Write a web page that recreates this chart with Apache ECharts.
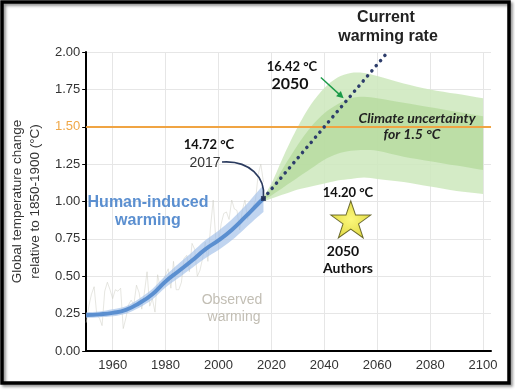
<!DOCTYPE html>
<html><head><meta charset="utf-8">
<script src="https://cdn.jsdelivr.net/npm/echarts@6/dist/echarts.min.js"></script>
<style>html,body{margin:0;padding:0;background:#fff}#c{width:515px;height:390px}</style>
</head><body><div id="c"></div>
<script>
// ---- data ----
const histYears     = [1950,1955,1960,1965,1970,1975,1980,1985,1990,1995,2000,2005,2010,2015,2017];
const humanInduced  = [0.24,0.245,0.255,0.275,0.32,0.38,0.465,0.535,0.605,0.68,0.74,0.81,0.895,0.985,1.02];
const humanLow      = [0.22,0.225,0.232,0.25,0.29,0.345,0.425,0.49,0.555,0.62,0.675,0.74,0.82,0.90,0.93];
const humanHigh     = [0.26,0.265,0.28,0.30,0.35,0.415,0.505,0.585,0.66,0.74,0.805,0.88,0.97,1.07,1.11];

const obsYears = [];
for (let y = 1950; y <= 2017; y++) obsYears.push(y);
const observed = [0.19,0.30,0.38,0.43,0.24,0.22,0.17,0.40,0.46,0.41,0.35,0.41,0.40,0.42,0.15,0.22,0.31,0.34,0.31,0.44,
  0.39,0.28,0.39,0.53,0.30,0.35,0.26,0.51,0.42,0.47,0.51,0.55,0.42,0.60,0.41,0.41,0.46,0.62,0.64,0.53,
  0.72,0.68,0.50,0.54,0.62,0.73,0.60,0.83,1.01,0.74,0.72,0.85,0.92,0.93,0.88,1.01,0.95,0.94,0.81,0.94,
  1.01,0.88,0.92,0.96,1.01,1.18,1.25,1.13];

const projYears  = [2017,2020,2025,2030,2035,2040,2045,2050,2055,2060,2070,2080,2090,2100];
const outerLow   = [1.00,1.02,1.05,1.08,1.10,1.12,1.14,1.15,1.16,1.15,1.13,1.10,1.07,1.05];
const outerHigh  = [1.03,1.12,1.32,1.50,1.65,1.76,1.83,1.86,1.86,1.84,1.79,1.75,1.72,1.69];
const innerLow   = [1.01,1.04,1.10,1.16,1.22,1.28,1.32,1.34,1.345,1.34,1.30,1.27,1.24,1.21];
const innerHigh  = [1.02,1.09,1.24,1.38,1.50,1.59,1.65,1.69,1.70,1.69,1.66,1.63,1.60,1.57];

const rateYears  = [2017,2064];
const rateValues = [1.02,2.00];

const authorsPoint = [2050, 0.88];
const limitLevel = 1.5;

const xTicks = [1960,1980,2000,2020,2040,2060,2080,2100];

// ---- helpers ----
const pairs = (xs, ys) => xs.map((x,i)=>[x, ys[i]]);

function bandSeries(xs, lo, hi, color, z) {
  return {
    type:'custom', z, silent:true, clip:true,
    data: xs.map((x,i)=>[x, lo[i], hi[i]]),
    encode:{x:0, y:[1,2]},
    renderItem:(params, api) => {
      if (params.dataIndex !== 0) return null;
      const top = xs.map((x,i)=>api.coord([x, hi[i]]));
      const bot = xs.map((x,i)=>api.coord([x, lo[i]])).reverse();
      const pts = [top[0]].concat(top, [top[top.length-1]], [bot[0]], bot, [bot[bot.length-1]]);
      return {type:'polygon', shape:{points:pts, smooth:0.3}, style:{fill:color}};
    }
  };
}

const chart = echarts.init(document.getElementById('c'), null, {renderer:'canvas'});
const starPath = 'path://M50,0 L61.8,35.1 L99,35.1 L69,56.9 L80.4,92 L50,70.3 L19.6,92 L31,56.9 L1,35.1 L38.2,35.1 Z';

const option = {
  backgroundColor:'#fff',
  animation:false,
  grid:{left:79, right:24, top:52, bottom:39, containLabel:false},
  xAxis:{
    type:'value', min:1950, max:2103,
    axisLine:{show:true, lineStyle:{color:'#000', width:2}},
    axisTick:{show:false, customValues:xTicks},
    axisLabel:{customValues:xTicks, formatter:v=>String(v), color:'#333', fontFamily:'Liberation Sans', fontSize:13, margin:8},
    splitLine:{show:true, lineStyle:{color:'#e6e6e6', width:1}}
  },
  yAxis:{
    type:'value', min:0, max:2, interval:0.25,
    name:'Global temperature change\nrelative to 1850-1900 (°C)',
    nameLocation:'middle', nameGap:40, nameRotate:90,
    nameTextStyle:{color:'#333', fontFamily:'Liberation Sans', fontSize:13.5, lineHeight:18},
    axisLine:{show:true, lineStyle:{color:'#000', width:2}},
    axisTick:{show:true, length:4, lineStyle:{color:'#000'}},
    axisLabel:{color:'#333', fontFamily:'Liberation Sans', fontSize:13, margin:6,
      formatter:v => v === 1.5 ? '{o|1.50}' : v.toFixed(2),
      rich:{o:{color:'#f0a848', fontFamily:'Liberation Sans', fontSize:13}}},
    splitLine:{show:true, lineStyle:{color:'#e6e6e6', width:1}}
  },
  series:[
    {type:'line', name:'observed', data:pairs(obsYears, observed), symbol:'none',
      lineStyle:{color:'rgba(205,205,195,0.5)', width:1}, z:1},
    bandSeries(histYears, humanLow, humanHigh, 'rgba(160,190,232,0.65)', 2),
    bandSeries(projYears, outerLow, outerHigh, 'rgba(205,232,188,0.85)', 3),
    Object.assign(bandSeries(projYears, innerLow, innerHigh, 'rgba(172,214,145,0.6)', 3), {
      markLine:{silent:true, symbol:'none', label:{show:false},
        lineStyle:{color:'#f0a443', width:2, type:'solid'}, data:[{yAxis:limitLevel}]}}),
    {type:'line', name:'human', data:pairs(histYears, humanInduced), symbol:'none', smooth:true,
      lineStyle:{color:'#5b8fd0', width:4}, z:4},
    {type:'line', name:'rate', data:pairs(rateYears, rateValues), symbol:'none',
      lineStyle:{color:'#2d3d6b', width:3.5, type:[0.1,6.6], cap:'round'}, z:5},
    {type:'scatter', data:[[rateYears[0], rateValues[0]]], symbol:'rect', symbolSize:5,
      itemStyle:{color:'#1f2d55'}, z:6},
    {type:'scatter', data:[authorsPoint], symbol:starPath, symbolSize:[40,37],
      itemStyle:{color:new echarts.graphic.RadialGradient(0.5,0.5,0.6,[{offset:0,color:'#fbf65a'},{offset:1,color:'#d6cc10'}]),
        borderColor:'#4a4a10', borderWidth:1}, z:6}
  ]
};
chart.setOption(option);

const P = v => chart.convertToPixel({gridIndex:0}, v);
const p17 = P([rateYears[0], rateValues[0]]);
const aS = P([2038.7, 1.83]), aE = P([2047.3, 1.69]);
const ang = Math.atan2(aE[1]-aS[1], aE[0]-aS[0]);
const hl = 7, hw = 3.5;
const head = [
  [aE[0], aE[1]],
  [aE[0]-hl*Math.cos(ang)+hw*Math.sin(ang), aE[1]-hl*Math.sin(ang)-hw*Math.cos(ang)],
  [aE[0]-hl*Math.cos(ang)-hw*Math.sin(ang), aE[1]-hl*Math.sin(ang)+hw*Math.cos(ang)]
];
const T = (text, x, y, font, color) => ({type:'text', z:100, style:{text, x, y, font, fill:color||'#111', align:'center', verticalAlign:'middle'}});
const bold = 'bold 13px Lato';
chart.setOption({graphic:[
  T('Current', 386, 18, 'bold 16px "Liberation Sans"', '#222'),
  T('warming rate', 388, 37, 'bold 16px "Liberation Sans"', '#222'),
  T('14.72 °C', 209, 145, bold, '#111'),
  T('2017', 205, 163, '14px "Liberation Sans"', '#333'),
  {type:'bezierCurve', z:100, shape:{x1:222, y1:162, x2:p17[0], y2:p17[1]-1, cpx1:250, cpy1:160, cpx2:p17[0]+2, cpy2:178},
    style:{stroke:'#2a3a5e', lineWidth:1.6, fill:null}},
  T('16.42 °C', 292, 67, bold, '#111'),
  T('2050', 290, 84, 'bold 16px Lato', '#111'),
  {type:'line', z:100, shape:{x1:aS[0], y1:aS[1], x2:aE[0]-4*Math.cos(ang), y2:aE[1]-4*Math.sin(ang)}, style:{stroke:'#1a9a48', lineWidth:1.4}},
  {type:'polygon', z:100, shape:{points:head}, style:{fill:'#1a9a48'}},
  T('Climate uncertainty', 417, 118, 'italic bold 14px Lato', '#222'),
  T('for 1.5 °C', 412, 134, 'italic bold 14px Lato', '#222'),
  T('14.20 °C', 348, 193, bold, '#111'),
  T('2050', 343, 251, 'bold 14px Lato', '#111'),
  T('Authors', 348, 268, 'bold 14px Lato', '#111'),
  T('Human-induced', 148, 203, 'bold 16px "Liberation Sans"', '#5b8fd0'),
  T('warming', 148, 221, 'bold 16px "Liberation Sans"', '#5b8fd0'),
  T('Observed', 232, 300, '14px "Liberation Sans"', '#c2beb4'),
  T('warming', 234, 317, '14px "Liberation Sans"', '#c2beb4'),
  {type:'rect', z:200, shape:{x:2, y:2, width:507, height:381},
    style:{fill:null, stroke:'#000', lineWidth:3.5, shadowBlur:3, shadowOffsetX:2, shadowOffsetY:2, shadowColor:'rgba(0,0,0,0.45)'}}
]});
</script></body></html>
